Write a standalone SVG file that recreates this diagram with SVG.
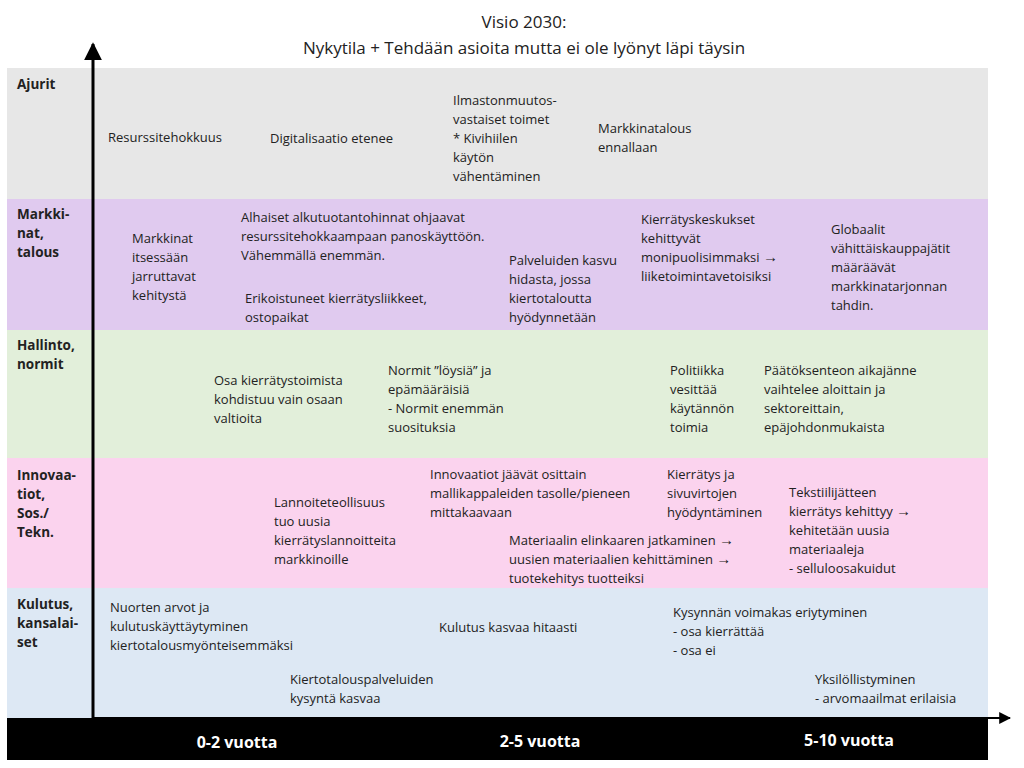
<svg xmlns="http://www.w3.org/2000/svg" width="1024" height="768" viewBox="0 0 1024 768">
<style>
text{font-family:"Open Sans","Liberation Sans",sans-serif;font-size:13px;fill:#222}
.h{font-weight:bold;font-size:13.5px}
.t{font-size:17px;fill:#222}
.y{font-weight:bold;font-size:16px;fill:#fff}
.ar{font-size:15px;font-weight:bold}
</style>
<defs><marker id="a" viewBox="0 0 10 10" refX="9" refY="5" markerWidth="6" markerHeight="6" orient="auto"><path d="M0,0L10,5L0,10z" fill="#000"/></marker></defs>
<rect width="1024" height="768" fill="#fff"/>
<text class="t" x="524" y="28" text-anchor="middle">Visio 2030:</text>
<text class="t" x="524" y="54" text-anchor="middle">Nykytila + Tehdään asioita mutta ei ole lyönyt läpi täysin</text>
<g id="ajurit"><rect x="7" y="68" width="981" height="131" fill="#e7e7e7"/>
<text class="h" x="17" y="89">Ajurit</text>
<text x="108" y="142">Resurssitehokkuus</text>
<text x="270" y="143">Digitalisaatio etenee</text>
<text x="453" y="105"><tspan x="453">Ilmastonmuutos-</tspan><tspan x="453" dy="19">vastaiset toimet</tspan><tspan x="453" dy="19">* Kivihiilen</tspan><tspan x="453" dy="19">käytön</tspan><tspan x="453" dy="19">vähentäminen</tspan></text>
<text x="598" y="133"><tspan x="598">Markkinatalous</tspan><tspan x="598" dy="19">ennallaan</tspan></text></g>
<g id="markkinat"><rect x="7" y="199" width="981" height="131" fill="#e0caef"/>
<text class="h" x="17" y="219"><tspan x="17">Markki-</tspan><tspan x="17" dy="19">nat,</tspan><tspan x="17" dy="19">talous</tspan></text>
<text x="132" y="243"><tspan x="132">Markkinat</tspan><tspan x="132" dy="19">itsessään</tspan><tspan x="132" dy="19">jarruttavat</tspan><tspan x="132" dy="19">kehitystä</tspan></text>
<text x="241" y="222"><tspan x="241">Alhaiset alkutuotantohinnat ohjaavat</tspan><tspan x="241" dy="19">resurssitehokkaampaan panoskäyttöön.</tspan><tspan x="241" dy="19">Vähemmällä enemmän.</tspan></text>
<text x="245" y="303"><tspan x="245">Erikoistuneet kierrätysliikkeet,</tspan><tspan x="245" dy="19">ostopaikat</tspan></text>
<text x="509" y="265"><tspan x="509">Palveluiden kasvu</tspan><tspan x="509" dy="19">hidasta, jossa</tspan><tspan x="509" dy="19">kiertotaloutta</tspan><tspan x="509" dy="19">hyödynnetään</tspan></text>
<text x="641" y="224"><tspan x="641">Kierrätyskeskukset</tspan><tspan x="641" dy="19">kehittyvät</tspan><tspan x="641" dy="19">monipuolisimmaksi <tspan class="ar">→</tspan></tspan><tspan x="641" dy="19">liiketoimintavetoisiksi</tspan></text>
<text x="831" y="234"><tspan x="831">Globaalit</tspan><tspan x="831" dy="19">vähittäiskauppajätit</tspan><tspan x="831" dy="19">määräävät</tspan><tspan x="831" dy="19">markkinatarjonnan</tspan><tspan x="831" dy="19">tahdin.</tspan></text></g>
<g id="hallinto"><rect x="7" y="330" width="981" height="128" fill="#e2efda"/>
<text class="h" x="17" y="350"><tspan x="17">Hallinto,</tspan><tspan x="17" dy="19">normit</tspan></text>
<text x="214" y="385"><tspan x="214">Osa kierrätystoimista</tspan><tspan x="214" dy="19">kohdistuu vain osaan</tspan><tspan x="214" dy="19">valtioita</tspan></text>
<text x="388" y="375"><tspan x="388">Normit ”löysiä” ja</tspan><tspan x="388" dy="19">epämääräisiä</tspan><tspan x="388" dy="19">- Normit enemmän</tspan><tspan x="388" dy="19">suosituksia</tspan></text>
<text x="670" y="375"><tspan x="670">Politiikka</tspan><tspan x="670" dy="19">vesittää</tspan><tspan x="670" dy="19">käytännön</tspan><tspan x="670" dy="19">toimia</tspan></text>
<text x="764" y="375"><tspan x="764">Päätöksenteon aikajänne</tspan><tspan x="764" dy="19">vaihtelee aloittain ja</tspan><tspan x="764" dy="19">sektoreittain,</tspan><tspan x="764" dy="19">epäjohdonmukaista</tspan></text></g>
<g id="innovaatiot"><rect x="7" y="458" width="981" height="130" fill="#fbd3ee"/>
<text class="h" x="17" y="480"><tspan x="17">Innovaa-</tspan><tspan x="17" dy="19">tiot,</tspan><tspan x="17" dy="19">Sos./</tspan><tspan x="17" dy="19">Tekn.</tspan></text>
<text x="274" y="507"><tspan x="274">Lannoiteteollisuus</tspan><tspan x="274" dy="19">tuo uusia</tspan><tspan x="274" dy="19">kierrätyslannoitteita</tspan><tspan x="274" dy="19">markkinoille</tspan></text>
<text x="430" y="479"><tspan x="430">Innovaatiot jäävät osittain</tspan><tspan x="430" dy="19">mallikappaleiden tasolle/pieneen</tspan><tspan x="430" dy="19">mittakaavaan</tspan></text>
<text x="509" y="545"><tspan x="509">Materiaalin elinkaaren jatkaminen <tspan class="ar">→</tspan></tspan><tspan x="509" dy="19">uusien materiaalien kehittäminen <tspan class="ar">→</tspan></tspan><tspan x="509" dy="19">tuotekehitys tuotteiksi</tspan></text>
<text x="667" y="479"><tspan x="667">Kierrätys ja</tspan><tspan x="667" dy="19">sivuvirtojen</tspan><tspan x="667" dy="19">hyödyntäminen</tspan></text>
<text x="789" y="497"><tspan x="789">Tekstiilijätteen</tspan><tspan x="789" dy="19">kierrätys kehittyy <tspan class="ar">→</tspan></tspan><tspan x="789" dy="19">kehitetään uusia</tspan><tspan x="789" dy="19">materiaaleja</tspan><tspan x="789" dy="19">- selluloosakuidut</tspan></text></g>
<g id="kulutus"><rect x="7" y="588" width="981" height="130" fill="#dde8f4"/>
<text class="h" x="17" y="609"><tspan x="17">Kulutus,</tspan><tspan x="17" dy="19">kansalai-</tspan><tspan x="17" dy="19">set</tspan></text>
<text x="110" y="612"><tspan x="110">Nuorten arvot ja</tspan><tspan x="110" dy="19">kulutuskäyttäytyminen</tspan><tspan x="110" dy="19">kiertotalousmyönteisemmäksi</tspan></text>
<text x="290" y="684"><tspan x="290">Kiertotalouspalveluiden</tspan><tspan x="290" dy="19">kysyntä kasvaa</tspan></text>
<text x="439" y="632">Kulutus kasvaa hitaasti</text>
<text x="673" y="617"><tspan x="673">Kysynnän voimakas eriytyminen</tspan><tspan x="673" dy="19">- osa kierrättää</tspan><tspan x="673" dy="19">- osa ei</tspan></text>
<text x="815" y="684"><tspan x="815">Yksilöllistyminen</tspan><tspan x="815" dy="19">- arvomaailmat erilaisia</tspan></text></g>
<g id="aikajana"><rect x="7" y="718" width="981" height="42" fill="#000"/>
<text class="y" x="237" y="748" text-anchor="middle">0-2 vuotta</text>
<text class="y" x="540" y="747" text-anchor="middle">2-5 vuotta</text>
<text class="y" x="849" y="746" text-anchor="middle">5-10 vuotta</text></g>
<g id="connectors" stroke="#000" stroke-width="3" fill="none">
<line x1="93" y1="720" x2="93" y2="44" marker-end="url(#a)"/>
<line x1="93" y1="718" x2="1010" y2="718" stroke-width="2" marker-end="url(#a)"/>
</g>
</svg>
